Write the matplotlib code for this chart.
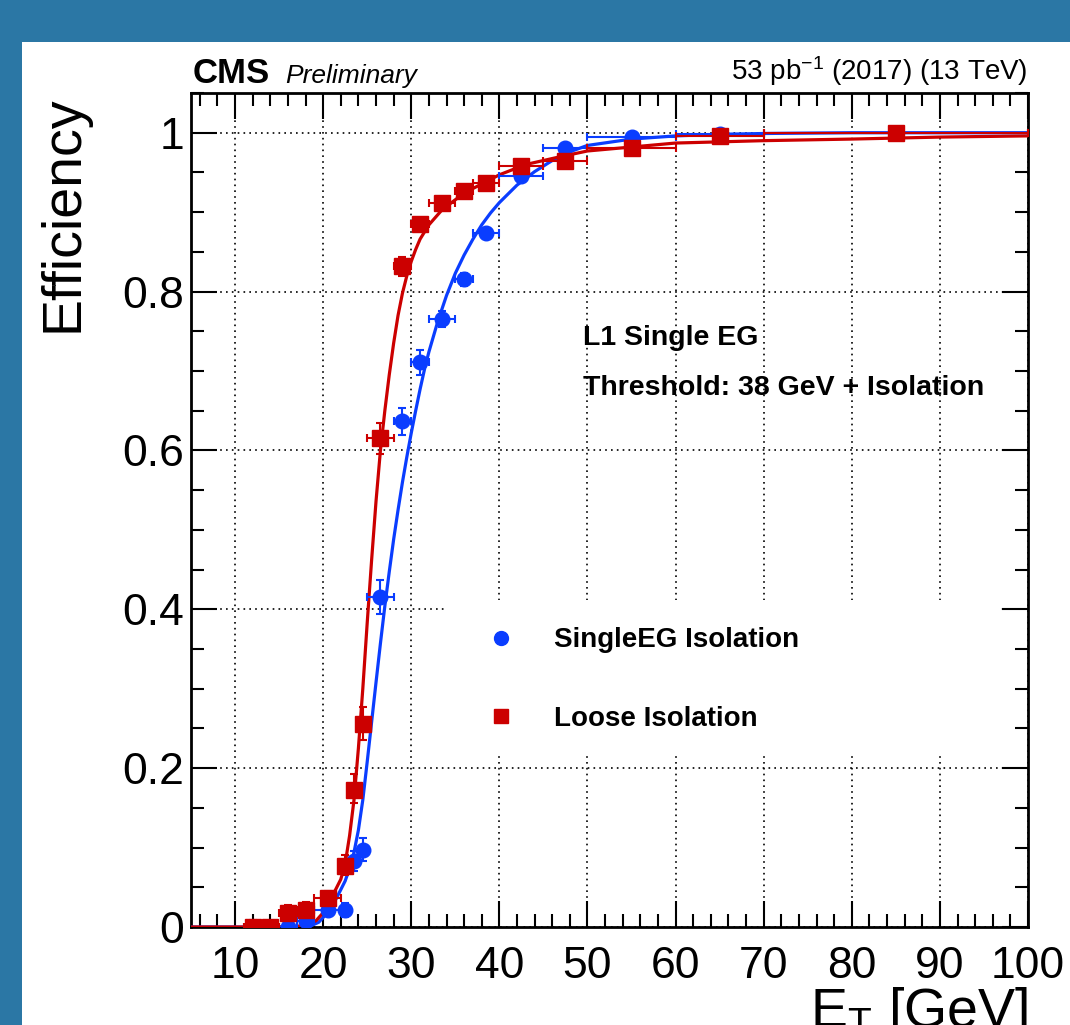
"""
L1 Single EG turn-on curves (CMS Preliminary 2017, 53 pb^-1), redrawn with matplotlib.

Run:
    python plot.py

Writes out.png (about 1070x1025 px).
"""
import matplotlib

matplotlib.use("Agg")
import matplotlib.pyplot as plt
from matplotlib.lines import Line2D
from matplotlib.patches import Rectangle
from matplotlib.ticker import FuncFormatter, MultipleLocator

plt.rcParams["font.family"] = ["Liberation Sans", "DejaVu Sans"]
plt.rcParams["mathtext.fontset"] = "custom"
plt.rcParams["mathtext.rm"] = "Liberation Sans"
plt.rcParams["mathtext.it"] = "Liberation Sans:italic"
plt.rcParams["mathtext.bf"] = "Liberation Sans:bold"

BLUE = "#0a3dff"
RED = "#cc0000"
FRAME_BLUE = "#2b77a5"

# offline E_T bins, shared by both selections
et = [12, 14, 16, 18, 20.5, 22.5, 23.5, 24.5, 26.5, 29, 31, 33.5, 36, 38.5, 42.5, 47.5, 55, 65, 85]
bin_lo = [11, 13, 15, 17, 19, 22, 23, 24, 25, 28, 30, 32, 35, 37, 40, 45, 50, 60, 70]
bin_hi = [13, 15, 17, 19, 22, 23, 24, 25, 28, 30, 32, 35, 37, 40, 45, 50, 60, 70, 100]

# SingleEG Isolation
iso_eff = [0.0, 0.0, 0.0, 0.008, 0.021, 0.021, 0.083, 0.097, 0.416, 0.637, 0.711,
           0.766, 0.816, 0.874, 0.946, 0.981, 0.994, 0.999, 1.0]
iso_err_lo = [0.0, 0.0, 0.0, 0.004, 0.005, 0.008, 0.012, 0.014, 0.022, 0.018, 0.016,
              0.010, 0.009, 0.006, 0.005, 0.004, 0.002, 0.001, 0.001]
iso_err_hi = [0.004, 0.004, 0.005, 0.006, 0.006, 0.009, 0.013, 0.015, 0.021, 0.017, 0.015,
              0.009, 0.008, 0.005, 0.005, 0.003, 0.002, 0.001, 0.0]

# Loose Isolation
loose_eff = [0.0, 0.0, 0.018, 0.021, 0.036, 0.077, 0.173, 0.256, 0.616, 0.832, 0.885,
             0.911, 0.927, 0.937, 0.958, 0.965, 0.981, 0.996, 1.0]
loose_err_lo = [0.0, 0.0, 0.008, 0.008, 0.008, 0.012, 0.017, 0.020, 0.020, 0.012, 0.009,
                0.007, 0.006, 0.005, 0.005, 0.005, 0.004, 0.003, 0.002]
loose_err_hi = [0.009, 0.006, 0.010, 0.010, 0.009, 0.014, 0.019, 0.021, 0.019, 0.011, 0.008,
                0.006, 0.005, 0.005, 0.004, 0.004, 0.003, 0.002, 0.0]

# fitted turn-on curves
iso_fit_x = [5, 17, 18.5, 19.5, 20.5, 21.5, 22.5, 23, 23.5, 24, 24.5, 25, 25.5, 26,
             26.5, 27, 27.5, 28, 28.5, 29, 29.5, 30, 30.5, 31, 31.5, 32, 33, 34, 35,
             36, 37, 38, 39, 40, 42, 44, 46, 48, 50, 55, 60, 65, 70, 80, 100]
iso_fit_y = [0.0, 0.0, 0.001, 0.006, 0.018, 0.036, 0.058, 0.074, 0.094, 0.122, 0.160,
             0.208, 0.258, 0.308, 0.357, 0.404, 0.447, 0.488, 0.525, 0.560, 0.592, 0.622,
             0.650, 0.677, 0.702, 0.724, 0.762, 0.795, 0.823, 0.846, 0.866, 0.884, 0.899,
             0.912, 0.934, 0.951, 0.965, 0.976, 0.984, 0.992, 0.996, 0.998, 0.999, 1.0, 1.0]

loose_fit_x = [5, 16, 18, 19.2, 20, 21, 22, 22.5, 23, 23.5, 24, 24.5, 25, 25.5, 26,
               26.5, 27, 27.5, 28, 28.5, 29, 29.5, 30, 30.5, 31, 32, 33.5, 36, 40, 43,
               47, 50, 60, 70, 80, 90, 100]
loose_fit_y = [0.0, 0.0, 0.002, 0.008, 0.018, 0.038, 0.060, 0.080, 0.115, 0.160, 0.225,
               0.300, 0.383, 0.462, 0.536, 0.600, 0.650, 0.695, 0.735, 0.770, 0.798, 0.820,
               0.838, 0.853, 0.866, 0.884, 0.903, 0.924, 0.947, 0.960, 0.970, 0.977, 0.987,
               0.990, 0.992, 0.9945, 0.996]

W, H = 1070, 1025

fig = plt.figure(figsize=(W / 100, H / 100), dpi=100)
fig.patch.set_facecolor(FRAME_BLUE)
fig.add_artist(Rectangle((22 / W, 0), 1, (H - 42) / H, transform=fig.transFigure,
                         facecolor="white", edgecolor="none", zorder=-1))

ax = fig.add_axes([191 / W, (H - 927) / H, 837 / W, 834 / H])
ax.set_xlim(5, 100)
ax.set_ylim(0, 1.05)

ax.xaxis.set_major_locator(MultipleLocator(10))
ax.xaxis.set_minor_locator(MultipleLocator(2))
ax.yaxis.set_major_locator(MultipleLocator(0.2))
ax.yaxis.set_minor_locator(MultipleLocator(0.05))
ax.yaxis.set_major_formatter(FuncFormatter(lambda v, _: f"{v:g}"))

ax.tick_params(which="both", direction="in", top=True, right=True, width=1.5)
ax.tick_params(which="major", length=18.5)
ax.tick_params(which="minor", length=9.5)
ax.tick_params(axis="x", which="major", labelsize=32, pad=14)
ax.tick_params(axis="y", which="major", labelsize=32, pad=5)
for sp in ax.spines.values():
    sp.set_linewidth(2)

ax.set_axisbelow(True)
ax.grid(True, which="major", color="black", linestyle=(0, (1, 2.5)), linewidth=1.2)

# white legend box hides the grid behind it
ax.add_patch(Rectangle((0.306, 0.2086), 0.66, 0.1835, transform=ax.transAxes,
                       facecolor="white", edgecolor="none", zorder=1))

ax.plot(iso_fit_x, iso_fit_y, color=BLUE, lw=2.3, zorder=3)
ax.plot(loose_fit_x, loose_fit_y, color=RED, lw=2.3, zorder=3)


def xerr(x):
    return [[c - lo for c, lo in zip(x, bin_lo)], [hi - c for c, hi in zip(x, bin_hi)]]


ax.errorbar(et, iso_eff, yerr=[iso_err_lo, iso_err_hi], xerr=xerr(et), fmt="o",
            color=BLUE, markersize=10.5, elinewidth=1.5, capsize=3, capthick=1.5, zorder=4)
ax.errorbar(et, loose_eff, yerr=[loose_err_lo, loose_err_hi], xerr=xerr(et), fmt="s",
            color=RED, markersize=12, elinewidth=1.5, capsize=3, capthick=1.5, zorder=5)

handles = [
    Line2D([], [], marker="o", color=BLUE, ls="none", markersize=10),
    Line2D([], [], marker="s", color=RED, ls="none", markersize=10.5),
]
ax.legend(handles, ["SingleEG Isolation", "Loose Isolation"], loc="upper left",
          bbox_to_anchor=(0.3225, 0.376), frameon=False, borderpad=0, handlelength=1.9,
          handletextpad=0.95, labelspacing=1.9, prop={"weight": "bold", "size": 20})

ax.text(0.468, 0.706, "L1 Single EG", transform=ax.transAxes, fontsize=20.5,
        fontweight="bold", va="center", ha="left")
ax.text(0.468, 0.646, "Threshold: 38 GeV + Isolation", transform=ax.transAxes,
        fontsize=20.5, fontweight="bold", va="center", ha="left")

ax.text(0.0024, 1.012, "CMS", transform=ax.transAxes, fontsize=25, fontweight="bold",
        va="baseline", ha="left")
ax.text(0.112, 1.012, "Preliminary", transform=ax.transAxes, fontsize=19,
        fontstyle="italic", va="baseline", ha="left")
ax.text(1.0, 1.0156, "53 pb$^{-1}$ (2017) (13 TeV)", transform=ax.transAxes,
        fontsize=20, va="baseline", ha="right")

fig.text(1028 / W, (H - 985) / H, r"E$_{\mathrm{T}}$ [GeV]", fontsize=40,
         ha="right", va="top")
fig.text(38 / W, (H - 95) / H, "Efficiency", fontsize=40, rotation=90,
         ha="left", va="top")

fig.savefig("out.png", dpi=100)
